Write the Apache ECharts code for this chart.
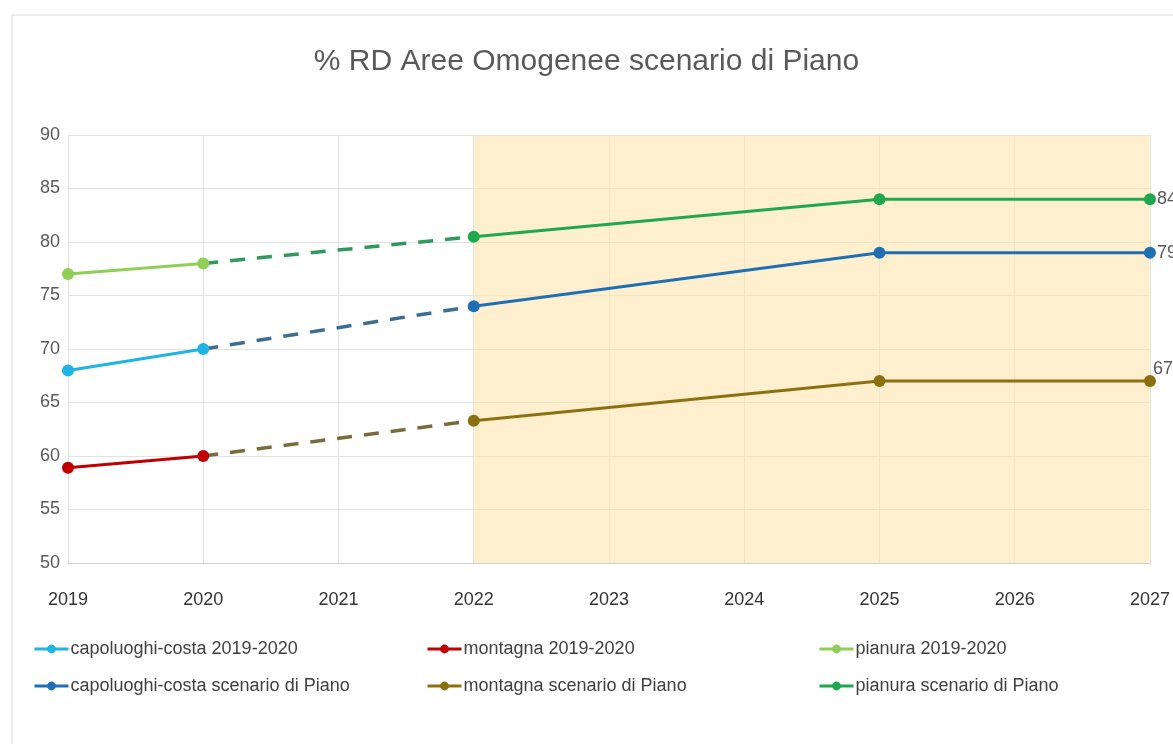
<!DOCTYPE html>
<html>
<head>
<meta charset="utf-8">
<script src="https://cdn.jsdelivr.net/npm/echarts@6/dist/echarts.min.js"></script>
<style>html,body{margin:0;padding:0;background:#fff}#c{width:1173px;height:744px}</style>
</head>
<body>
<div id="c"></div>
<script>
const years = ['2019','2020','2021','2022','2023','2024','2025','2026','2027'];
const capoluoghiHist = [68, 70, '-', '-', '-', '-', '-', '-', '-'];
const montagnaHist   = [58.9, 60, '-', '-', '-', '-', '-', '-', '-'];
const pianuraHist    = [77, 78, '-', '-', '-', '-', '-', '-', '-'];
const capoluoghiLink = ['-', 70, '-', 74, '-', '-', '-', '-', '-'];
const montagnaLink   = ['-', 60, '-', 63.3, '-', '-', '-', '-', '-'];
const pianuraLink    = ['-', 78, '-', 80.5, '-', '-', '-', '-', '-'];
const capoluoghiPlan = ['-', '-', '-', 74, '-', '-', 79, '-', 79];
const montagnaPlan   = ['-', '-', '-', 63.3, '-', '-', 67, '-', 67];
const pianuraPlan    = ['-', '-', '-', 80.5, '-', '-', 84, '-', 84];
const yTicks = {min: 50, max: 90, interval: 5};
const shadeFrom = '2022', shadeTo = '2027';

const FONT = 'Liberation Sans, Arial, sans-serif';
const chart = echarts.init(document.getElementById('c'));

function lastLabel(arr, pos, offset) {
  return arr.map((v, i) => {
    if (i === arr.length - 1 && v !== '-') {
      return {value: v, label: {show: true, position: pos, offset: offset || [0,0], color: '#595959', fontSize: 18, fontFamily: FONT, distance: 1, formatter: '{c}'}};
    }
    return v;
  });
}

function lineSeries(name, data, color, extra) {
  return Object.assign({
    name: name, type: 'line', data: data, connectNulls: true,
    symbol: 'circle', symbolSize: 12, showSymbol: true,
    lineStyle: {color: color, width: 3},
    itemStyle: {color: color},
    z: 3
  }, extra || {});
}
function dashSeries(name, data, color) {
  return {
    name: name, type: 'line', data: data, connectNulls: true, showSymbol: false, symbol: 'none',
    lineStyle: {color: color, width: 3.5, type: [15, 12]}, itemStyle: {color: color}, z: 2,
    silent: true
  };
}

const legendCommon = {
  orient: 'vertical', top: 635, itemGap: 19, itemWidth: 34, itemHeight: 11,
  lineStyle: {width: 3},
  textStyle: {color: '#404040', fontSize: 18, fontFamily: FONT, padding: [0, 0, 0, -3]}
};

chart.setOption({
  animation: false,
  backgroundColor: '#fff',
  graphic: [{type: 'rect', shape: {x: 12, y: 15, width: 1200, height: 800}, style: {fill: 'none', stroke: '#d9d9d9', lineWidth: 1}, z: -10}],
  title: {text: '% RD Aree Omogenee scenario di Piano', left: 'center', top: 42,
    textStyle: {color: '#595959', fontSize: 30, fontWeight: 'normal', fontFamily: FONT}},
  grid: {left: 68, right: 21, top: 135, bottom: 181, containLabel: false},
  legend: [
    Object.assign({left: 28, data: ['capoluoghi-costa 2019-2020', 'capoluoghi-costa scenario di Piano']}, legendCommon),
    Object.assign({left: 421, data: ['montagna 2019-2020', 'montagna scenario di Piano']}, legendCommon),
    Object.assign({left: 813, data: ['pianura 2019-2020', 'pianura scenario di Piano']}, legendCommon)
  ],
  xAxis: {
    type: 'category', data: years, boundaryGap: false,
    axisLine: {lineStyle: {color: '#d0d0d0'}}, axisTick: {show: false},
    axisLabel: {color: '#333333', fontSize: 18, fontFamily: FONT, margin: 28},
    splitLine: {show: true, lineStyle: {color: '#e2e2e2'}}
  },
  yAxis: {
    type: 'value', min: yTicks.min, max: yTicks.max, interval: yTicks.interval,
    axisLine: {show: false}, axisTick: {show: false},
    axisLabel: {color: '#595959', fontSize: 18, fontFamily: FONT, margin: 8},
    splitLine: {lineStyle: {color: '#e2e2e2'}}
  },
  series: [
    {name: 'shade', type: 'line', data: [], silent: true, z: 0,
      markArea: {silent: true, itemStyle: {color: 'rgba(253,230,175,0.6)'}, data: [[{xAxis: shadeFrom}, {xAxis: shadeTo}]]}},
    dashSeries('capDash', capoluoghiLink, '#3e6d92'),
    dashSeries('monDash', montagnaLink, '#7a6b3c'),
    dashSeries('piaDash', pianuraLink, '#2e9a5e'),
    lineSeries('capoluoghi-costa 2019-2020', capoluoghiHist, '#1fb4e4'),
    lineSeries('montagna 2019-2020', montagnaHist, '#c00000'),
    lineSeries('pianura 2019-2020', pianuraHist, '#8fcf55'),
    lineSeries('capoluoghi-costa scenario di Piano', lastLabel(capoluoghiPlan, 'right'), '#1f6fb5'),
    lineSeries('montagna scenario di Piano', lastLabel(montagnaPlan, 'right', [-4, -12]), '#8c7010'),
    lineSeries('pianura scenario di Piano', lastLabel(pianuraPlan, 'right'), '#1fa84f')
  ]
});
</script>
</body>
</html>
